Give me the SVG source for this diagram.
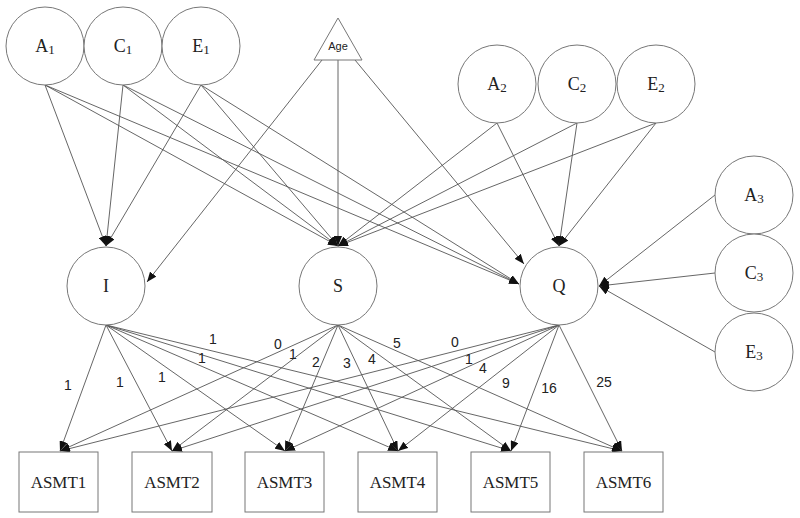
<svg xmlns="http://www.w3.org/2000/svg" width="800" height="518" viewBox="0 0 800 518">
<defs>
<marker id="ah" markerUnits="userSpaceOnUse" markerWidth="10" markerHeight="8" refX="10" refY="4" orient="auto">
<path d="M0,0 L10,4 L0,8 z" fill="#111"/>
</marker>
<style>
.n{fill:#fff;stroke:#777;stroke-width:1}
.t{font-family:"Liberation Serif","Times New Roman",serif;font-size:18px;fill:#222;text-anchor:middle}
.bt{font-family:"Liberation Serif","Times New Roman",serif;font-size:17px;fill:#222;text-anchor:middle}
.sub{font-size:13px}
.e line{stroke:#555;stroke-width:0.9;marker-end:url(#ah)}
.lb{font-family:"Liberation Sans",Arial,sans-serif;font-size:14px;fill:#222;text-anchor:middle}
.age{font-family:"Liberation Sans",Arial,sans-serif;font-size:11px;fill:#222;text-anchor:middle}
</style>
</defs>
<rect width="800" height="518" fill="#fff"/>
<g class="e" id="connectors">
<!-- to I -->
<line x1="45" y1="85" x2="106" y2="246"/>
<line x1="123" y1="85" x2="106" y2="246"/>
<line x1="201" y1="85" x2="106" y2="246"/>
<line x1="322" y1="60" x2="147" y2="282"/>
<!-- to S -->
<line x1="45" y1="85" x2="338" y2="246"/>
<line x1="123" y1="85" x2="338" y2="246"/>
<line x1="201" y1="85" x2="338" y2="246"/>
<line x1="338" y1="60" x2="338" y2="246"/>
<line x1="497" y1="123" x2="338" y2="246"/>
<line x1="577" y1="123" x2="338" y2="246"/>
<line x1="656" y1="123" x2="338" y2="246"/>
<!-- to Q -->
<line x1="45" y1="85" x2="519" y2="284"/>
<line x1="123" y1="85" x2="519" y2="284"/>
<line x1="201" y1="85" x2="519" y2="284"/>
<line x1="355" y1="60" x2="524" y2="264"/>
<line x1="497" y1="123" x2="559" y2="246"/>
<line x1="577" y1="123" x2="559" y2="246"/>
<line x1="656" y1="123" x2="559" y2="246"/>
<line x1="715" y1="195" x2="599" y2="286"/>
<line x1="715" y1="273" x2="599" y2="286"/>
<line x1="715" y1="352" x2="599" y2="286"/>
<!-- I to ASMT -->
<line x1="106" y1="325" x2="60" y2="451"/>
<line x1="106" y1="325" x2="172" y2="451"/>
<line x1="106" y1="325" x2="285" y2="451"/>
<line x1="106" y1="325" x2="398" y2="451"/>
<line x1="106" y1="325" x2="511" y2="451"/>
<line x1="106" y1="325" x2="622" y2="451"/>
<!-- S to ASMT -->
<line x1="338" y1="325" x2="60" y2="451"/>
<line x1="338" y1="325" x2="172" y2="451"/>
<line x1="338" y1="325" x2="285" y2="451"/>
<line x1="338" y1="325" x2="398" y2="451"/>
<line x1="338" y1="325" x2="511" y2="451"/>
<line x1="338" y1="325" x2="622" y2="451"/>
<!-- Q to ASMT -->
<line x1="559" y1="325" x2="60" y2="451"/>
<line x1="559" y1="325" x2="172" y2="451"/>
<line x1="559" y1="325" x2="285" y2="451"/>
<line x1="559" y1="325" x2="398" y2="451"/>
<line x1="559" y1="325" x2="511" y2="451"/>
<line x1="559" y1="325" x2="622" y2="451"/>
</g>
<g id="labels">
<text class="lb" x="68" y="390">1</text>
<text class="lb" x="120" y="387">1</text>
<text class="lb" x="162" y="382">1</text>
<text class="lb" x="202" y="363">1</text>
<text class="lb" x="213" y="344">1</text>
<text class="lb" x="278" y="349">0</text>
<text class="lb" x="293" y="359">1</text>
<text class="lb" x="316" y="367">2</text>
<text class="lb" x="347" y="368">3</text>
<text class="lb" x="372" y="364">4</text>
<text class="lb" x="397" y="348">5</text>
<text class="lb" x="455" y="347">0</text>
<text class="lb" x="469" y="364">1</text>
<text class="lb" x="483" y="373">4</text>
<text class="lb" x="506" y="388">9</text>
<text class="lb" x="549" y="393">16</text>
<text class="lb" x="604" y="387">25</text>
</g>
<g id="A1"><circle class="n" cx="45" cy="46" r="39"/><text class="t" x="45" y="52">A<tspan class="sub" dy="2">1</tspan></text></g>
<g id="C1"><circle class="n" cx="123" cy="46" r="39"/><text class="t" x="123" y="52">C<tspan class="sub" dy="2">1</tspan></text></g>
<g id="E1"><circle class="n" cx="201" cy="46" r="39"/><text class="t" x="201" y="52">E<tspan class="sub" dy="2">1</tspan></text></g>
<g id="Age"><polygon class="n" points="338,18 314,60 362,60"/><text class="age" x="338" y="50">Age</text></g>
<g id="A2"><circle class="n" cx="497" cy="84" r="39"/><text class="t" x="497" y="90">A<tspan class="sub" dy="2">2</tspan></text></g>
<g id="C2"><circle class="n" cx="577" cy="84" r="39"/><text class="t" x="577" y="90">C<tspan class="sub" dy="2">2</tspan></text></g>
<g id="E2"><circle class="n" cx="656" cy="84" r="39"/><text class="t" x="656" y="90">E<tspan class="sub" dy="2">2</tspan></text></g>
<g id="A3"><circle class="n" cx="754" cy="195" r="39"/><text class="t" x="754" y="201">A<tspan class="sub" dy="2">3</tspan></text></g>
<g id="C3"><circle class="n" cx="754" cy="273" r="39"/><text class="t" x="754" y="279">C<tspan class="sub" dy="2">3</tspan></text></g>
<g id="E3"><circle class="n" cx="754" cy="352" r="39"/><text class="t" x="754" y="358">E<tspan class="sub" dy="2">3</tspan></text></g>
<g id="I"><circle class="n" cx="106" cy="286" r="39"/><text class="t" x="106" y="292">I</text></g>
<g id="S"><circle class="n" cx="338" cy="286" r="39"/><text class="t" x="338" y="292">S</text></g>
<g id="Q"><circle class="n" cx="559" cy="286" r="39"/><text class="t" x="559" y="292">Q</text></g>
<g id="ASMT1"><rect class="n" x="19" y="452" width="79" height="60"/><text class="bt" x="58.5" y="488">ASMT1</text></g>
<g id="ASMT2"><rect class="n" x="132" y="452" width="80" height="60"/><text class="bt" x="172" y="488">ASMT2</text></g>
<g id="ASMT3"><rect class="n" x="245" y="452" width="79" height="60"/><text class="bt" x="284.5" y="488">ASMT3</text></g>
<g id="ASMT4"><rect class="n" x="358" y="452" width="79" height="60"/><text class="bt" x="397.5" y="488">ASMT4</text></g>
<g id="ASMT5"><rect class="n" x="471" y="452" width="79" height="60"/><text class="bt" x="510.5" y="488">ASMT5</text></g>
<g id="ASMT6"><rect class="n" x="584" y="452" width="79" height="60"/><text class="bt" x="623.5" y="488">ASMT6</text></g>
</svg>
